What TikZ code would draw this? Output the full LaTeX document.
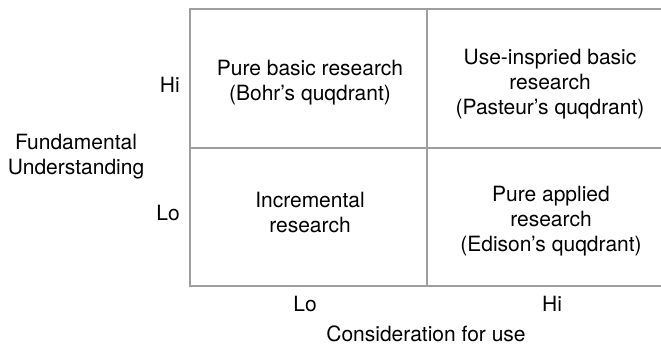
\documentclass[tikz,border=0pt]{standalone}
\usepackage{fontspec}
\setmainfont{TeX Gyre Heros}
\begin{document}
\begin{tikzpicture}[x=1pt,y=-1pt,
  gridline/.style={draw=black!38,line width=1.4pt},
  lbl/.style={inner sep=0pt,align=center,anchor=base,font=\fontsize{21}{25}\selectfont}]
\useasboundingbox (0,0) rectangle (661,347);
% grid
\coordinate (tl) at (190,9);
\coordinate (tr) at (662,9);
\coordinate (ml) at (190,148);
\coordinate (mr) at (662,148);
\coordinate (bl) at (190,286);
\coordinate (br) at (662,286);
\coordinate (tm) at (427,9);
\coordinate (bm) at (427,286);
\draw[gridline] (tr) -- (tl) -- (bl) -- (br);
\draw[gridline] (ml) -- (mr);
\draw[gridline] (tm) -- (bm);
% cells (base anchor = baseline of last line)
\node[lbl] (pb) at (310,101) {Pure basic research\\(Bohr’s quqdrant)};
\node[lbl] (ui) at (550,115) {Use-inspried basic\\research\\(Pasteur’s quqdrant)};
\node[lbl] (ir) at (310,233) {Incremental\\research};
\node[lbl] (pa) at (551,252) {Pure applied\\research\\(Edison’s quqdrant)};
% axes labels
\node[lbl,anchor=base east] (yhi) at (180,93) {Hi};
\node[lbl,anchor=base east] (ylo) at (180,221) {Lo};
\node[lbl] (ylab) at (76,175) {Fundamental\\Understanding};
\node[lbl] (xlo) at (305,312) {Lo};
\node[lbl] (xhi) at (552,312) {Hi};
\node[lbl] (xlab) at (426,341) {Consideration for use};
\end{tikzpicture}
\end{document}
